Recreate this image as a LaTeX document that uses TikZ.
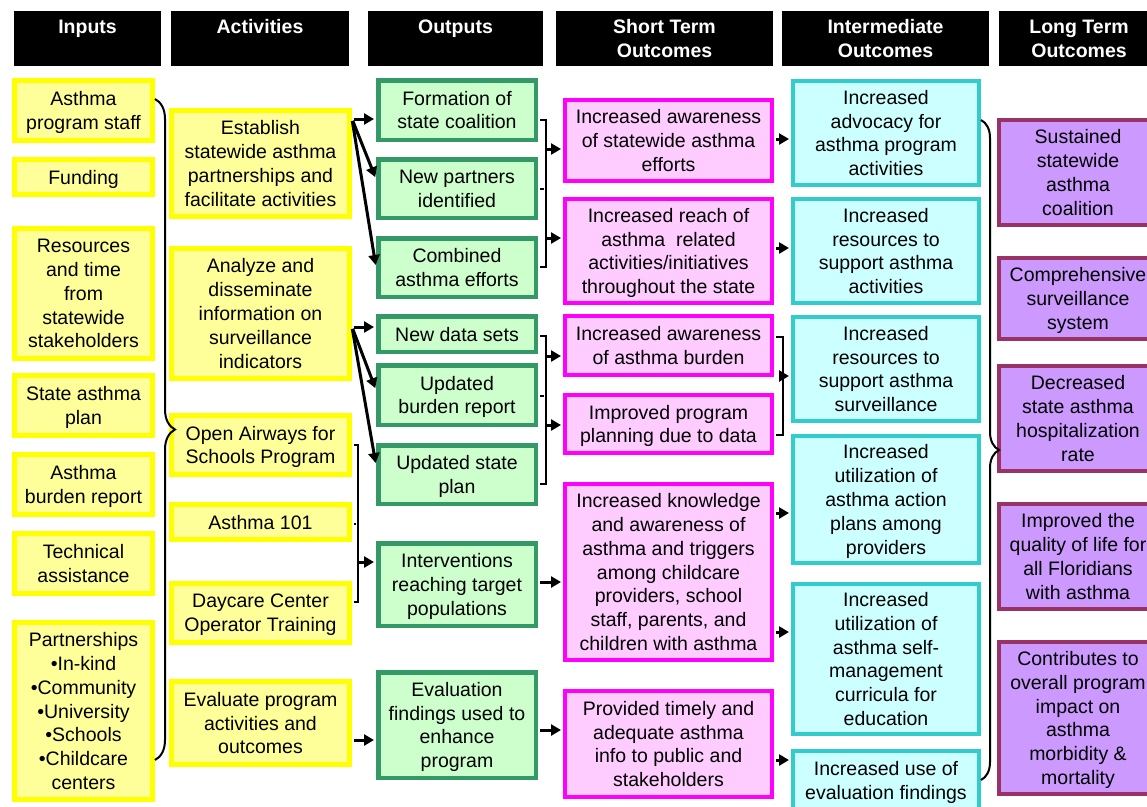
\documentclass[tikz,border=0pt]{standalone}
\usepackage{fontspec}
\setmainfont{Liberation Sans}
\usetikzlibrary{arrows.meta,decorations.pathreplacing}

\definecolor{inputfill}{HTML}{FFFF99}
\definecolor{inputline}{HTML}{FFFF00}
\definecolor{outputfill}{HTML}{CCFFCC}
\definecolor{outputline}{HTML}{339966}
\definecolor{shortfill}{HTML}{FFCCFF}
\definecolor{shortline}{HTML}{FF00FF}
\definecolor{midfill}{HTML}{CCFFFF}
\definecolor{midline}{HTML}{33CCCC}
\definecolor{longfill}{HTML}{CC99FF}
\definecolor{longline}{HTML}{993366}

\begin{document}
\begin{tikzpicture}[x=1pt,y=-1pt,
    every node/.style={align=center,inner sep=2pt,text depth=0pt,
      font=\fontsize{19.5}{23.8}\selectfont},
    head/.style={fill=black,text=white,font=\fontsize{19.5}{23.8}\selectfont\bfseries,minimum height=55pt},
    inbox/.style={draw=inputline,fill=inputfill,line width=5pt},
    outbox/.style={draw=outputline,fill=outputfill,line width=4.5pt,minimum width=157.5pt},
    shortbox/.style={draw=shortline,fill=shortfill,line width=4pt,minimum width=207pt},
    midbox/.style={draw=midline,fill=midfill,line width=4pt,minimum width=186pt},
    longbox/.style={draw=longline,fill=longfill,line width=4pt,minimum width=158pt},
    arr/.style={line width=3pt,-{Triangle[length=10pt,width=11pt]},shorten >=2pt},
    link/.style={arr,shorten <=2pt},
    brk/.style={line width=1.3pt,shorten <=2pt,shorten >=2pt},
    brc/.style={line width=2pt,decorate,decoration={brace,amplitude=#1}}]
    \useasboundingbox (0,0) rectangle (1147,806);
    \clip (0,0) rectangle (1147,806);

    % Draw the column headers
    \node[head,minimum width=147pt] (hinputs) at (87.5,38.5) {Inputs\\~};
    \node[head,minimum width=178pt] (hactivities) at (260,38.5) {Activities\\~};
    \node[head,minimum width=175pt] (houtputs) at (455.5,38.5) {Outputs\\~};
    \node[head,minimum width=217pt] (hshort) at (664.5,38.5) {Short Term\\Outcomes};
    \node[head,minimum width=207pt] (hmid) at (885.5,38.5) {Intermediate\\Outcomes};
    \node[head,minimum width=160pt] (hlong) at (1079,38.5) {Long Term\\Outcomes};

    % Draw the inputs
    \node[inbox,minimum width=138pt,minimum height=60pt] (staff) at (83.5,110.5) {Asthma\\program staff};
    \node[inbox,minimum width=138pt,minimum height=35pt] (funding) at (83.5,177) {Funding};
    \node[inbox,minimum width=138pt,minimum height=130pt] (resources) at (83.5,293.5) {Resources\\and time\\from\\statewide\\stakeholders};
    \node[inbox,minimum width=138pt,minimum height=60pt] (plan) at (83.5,405.5) {State asthma\\plan};
    \node[inbox,minimum width=138pt,minimum height=60pt] (burden) at (83.5,484.5) {Asthma\\burden report};
    \node[inbox,minimum width=138pt,minimum height=60pt] (techassist) at (83.5,563.5) {Technical\\assistance};
    \node[inbox,minimum width=138pt,minimum height=177pt] (partners) at (83.5,711) {Partnerships\\•In-kind\\•Community\\•University\\•Schools\\•Childcare\\centers};

    % Draw the activities
    \node[inbox,minimum width=178pt,minimum height=106pt] (establish) at (260.5,163.5) {Establish\\statewide asthma\\partnerships and\\facilitate activities};
    \node[inbox,minimum width=178pt,minimum height=130pt] (analyze) at (260.5,313.5) {Analyze and\\disseminate\\information on\\surveillance\\indicators};
    \node[inbox,minimum width=178pt,minimum height=59pt] (openair) at (260.5,445) {Open Airways for\\Schools Program};
    \node[inbox,minimum width=178pt,minimum height=35pt] (asthmaone) at (260.5,522) {Asthma 101};
    \node[inbox,minimum width=178pt,minimum height=59pt] (daycare) at (260.5,613) {Daycare Center\\Operator Training};
    \node[inbox,minimum width=178pt,minimum height=83pt] (evaluate) at (260.5,723) {Evaluate program\\activities and\\outcomes};

    % Draw the outputs
    \node[outbox,minimum height=59.5pt] (formation) at (457,110) {Formation of\\state coalition};
    \node[outbox,minimum height=58.5pt] (newpartners) at (457,188.5) {New partners\\identified};
    \node[outbox,minimum height=58.5pt] (combined) at (457,267.5) {Combined\\asthma efforts};
    \node[outbox,minimum height=35.5pt] (datasets) at (457,334) {New data sets};
    \node[outbox,minimum height=59.5pt] (burdenrep) at (457,395) {Updated\\burden report};
    \node[outbox,minimum height=58.5pt] (stateplan) at (457,474.5) {Updated state\\plan};
    \node[outbox,minimum height=82.5pt] (interventions) at (457,584.5) {Interventions\\reaching target\\populations};
    \node[outbox,minimum height=105.5pt] (evalfindings) at (457,725) {Evaluation\\findings used to\\enhance\\program};

    % Draw the short term outcomes
    \node[shortbox,minimum height=81pt] (awstatewide) at (668.5,140.5) {Increased awareness\\of statewide asthma\\efforts};
    \node[shortbox,minimum height=104pt] (reach) at (668.5,251) {Increased reach of\\asthma\ \ related\\activities/initiatives\\throughout the state};
    \node[shortbox,minimum height=59pt] (awburden) at (668.5,345.5) {Increased awareness\\of asthma burden};
    \node[shortbox,minimum height=58pt] (planning) at (668.5,424) {Improved program\\planning due to data};
    \node[shortbox,minimum height=176pt] (knowledge) at (668.5,572) {Increased knowledge\\and awareness of\\asthma and triggers\\among childcare\\providers, school\\staff, parents, and\\children with asthma};
    \node[shortbox,minimum height=106pt] (timely) at (668.5,744) {Provided timely and\\adequate asthma\\info to public and\\stakeholders};

    % Draw the intermediate outcomes
    \node[midbox,minimum height=104pt] (advocacy) at (886,133) {Increased\\advocacy for\\asthma program\\activities};
    \node[midbox,minimum height=104pt] (resactivities) at (886,251) {Increased\\resources to\\support asthma\\activities};
    \node[midbox,minimum height=104pt] (ressurveillance) at (886,369) {Increased\\resources to\\support asthma\\surveillance};
    \node[midbox,minimum height=127pt] (actionplans) at (886,499.5) {Increased\\utilization of\\asthma action\\plans among\\providers};
    \node[midbox,minimum height=150pt] (selfmgmt) at (886,659) {Increased\\utilization of\\asthma self-\\management\\curricula for\\education};
    \node[midbox,minimum height=59pt] (usefindings) at (886,780.5) {Increased use of\\evaluation findings};

    % Draw the long term outcomes
    \node[longbox,minimum height=105pt] (sustained) at (1078,172.5) {Sustained\\statewide\\asthma\\coalition};
    \node[longbox,minimum height=81pt] (comprehensive) at (1078,298.5) {Comprehensive\\surveillance\\system};
    \node[longbox,minimum height=105pt] (decreased) at (1078,418.5) {Decreased\\state asthma\\hospitalization\\rate};
    \node[longbox,minimum height=105pt] (quality) at (1078,556.5) {Improved the\\quality of life for\\all Floridians\\with asthma};
    \node[longbox,minimum height=152pt] (contributes) at (1078,718) {Contributes to\\overall program\\impact on\\asthma\\morbidity \&\\mortality};

    % Braces
    \draw[brc=20pt] (staff.east |- 0,99) -- (partners.east |- 0,760);
    \draw[brc=18pt] (advocacy.east |- 0,120) -- (usefindings.east |- 0,780);

    % Activities to outputs
    \draw[link] (establish.east |- 0,119) -- (formation.west |- 0,119);
    \draw[link] (establish.east |- 0,119) -- (newpartners.west |- 0,179);
    \draw[link] (establish.east |- 0,119) -- (combined.west |- 0,267);
    \draw[link] (analyze.east |- 0,327) -- (datasets.west |- 0,327);
    \draw[link] (analyze.east |- 0,327) -- (burdenrep.west |- 0,390);
    \draw[link] (analyze.east |- 0,327) -- (stateplan.west |- 0,465);
    \coordinate (schoolbus) at (358,562);
    \draw[brk] (openair.east) -| (358,602) -- (daycare.east |- 0,602);
    \draw[brk] (asthmaone.east |- 0,524) -- (358,524);
    \draw[arr] (schoolbus) -- (interventions.west |- schoolbus);
    \draw[link] (evaluate.east |- 0,740) -- (evalfindings.west |- 0,740);

    % Outputs to short term outcomes
    \coordinate (coalbus) at (546,149);
    \coordinate (reachbus) at (546,238);
    \draw[brk] (formation.east |- 0,120) -| (546,267) -- (combined.east |- 0,267);
    \draw[brk] (newpartners.east |- 0,189) -- (546,189);
    \draw[arr] (coalbus) -- (awstatewide.west |- coalbus);
    \draw[arr] (reachbus) -- (reach.west |- reachbus);
    \coordinate (databus) at (546,356);
    \coordinate (planbus) at (546,425);
    \draw[brk] (datasets.east |- 0,336) -| (546,484) -- (stateplan.east |- 0,484);
    \draw[brk] (burdenrep.east |- 0,396) -- (546,396);
    \draw[arr] (databus) -- (awburden.west |- databus);
    \draw[arr] (planbus) -- (planning.west |- planbus);
    \draw[link] (interventions.east |- 0,582) -- (knowledge.west |- 0,582);
    \draw[link] (evalfindings.east |- 0,730) -- (timely.west |- 0,730);

    % Short term to intermediate outcomes
    \draw[link] (awstatewide.east |- 0,139) -- (advocacy.west |- 0,139);
    \draw[link] (reach.east |- 0,248) -- (resactivities.west |- 0,248);
    \coordinate (survbus) at (783,376);
    \draw[brk] (awburden.east |- 0,337) -| (783,435) -- (planning.east |- 0,435);
    \draw[arr] (survbus) -- (ressurveillance.west |- survbus);
    \draw[link] (knowledge.east |- 0,513) -- (actionplans.west |- 0,513);
    \draw[link] (knowledge.east |- 0,632) -- (selfmgmt.west |- 0,632);
    \draw[link] (timely.east |- 0,760) -- (usefindings.west |- 0,760);
\end{tikzpicture}
\end{document}
